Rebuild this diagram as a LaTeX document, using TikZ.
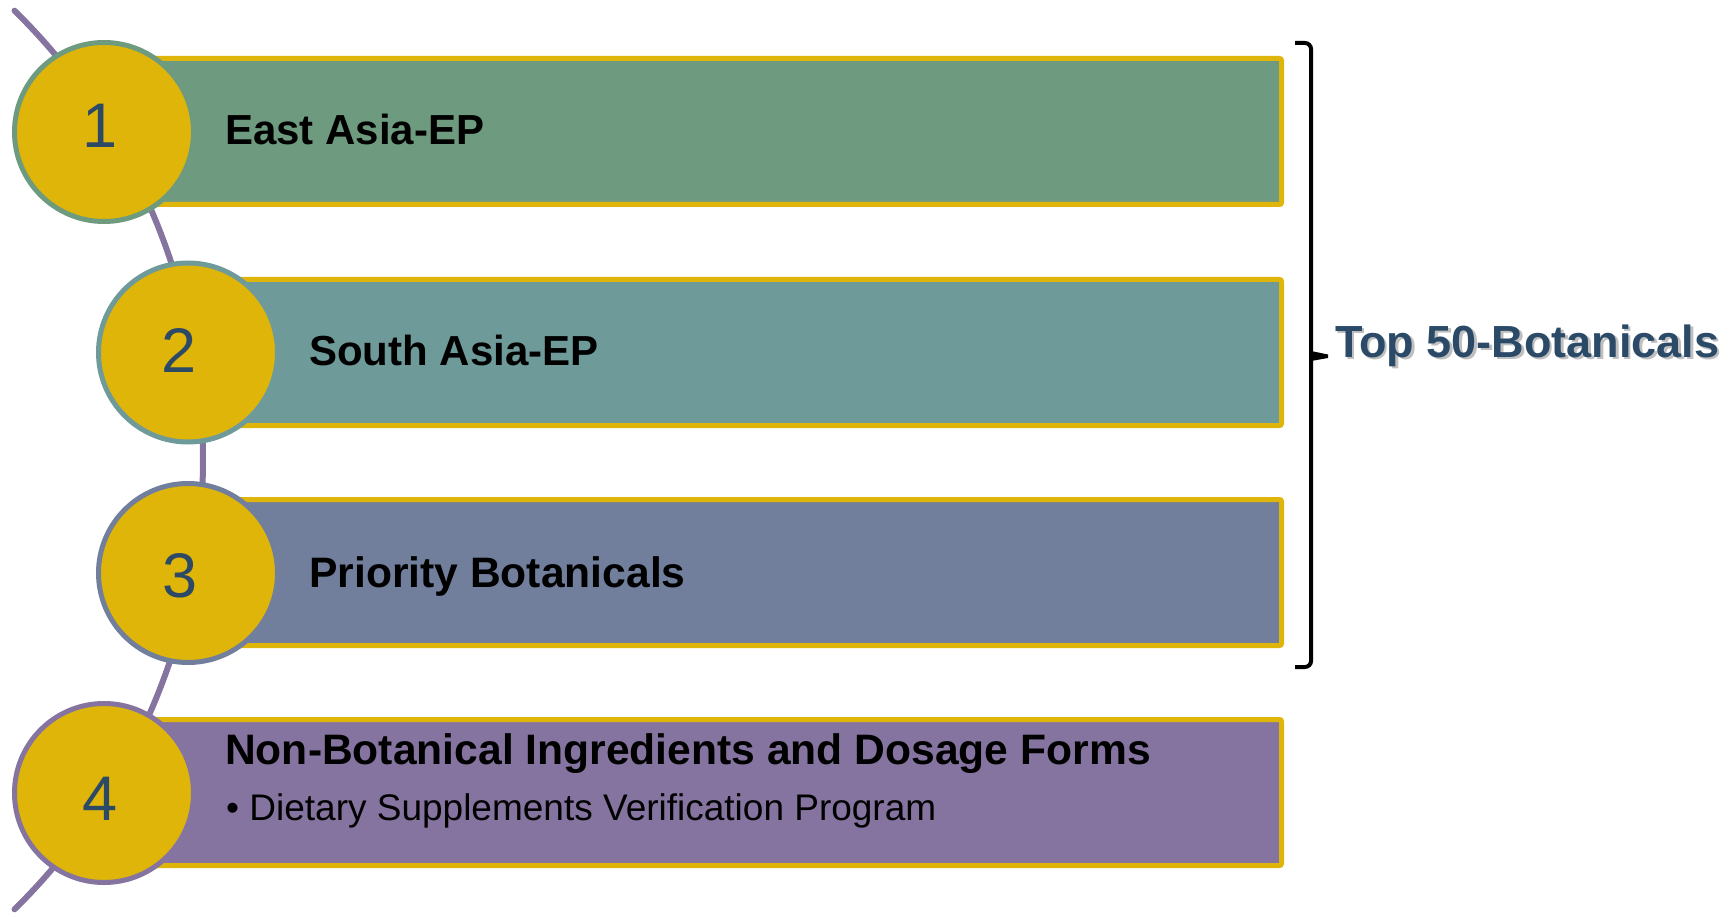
\documentclass[tikz,border=0pt]{standalone}
\usepackage{fontspec}
\setmainfont{Liberation Sans}
\definecolor{gold}{HTML}{DFB50A}
\definecolor{barA}{HTML}{6E9A80}
\definecolor{barB}{HTML}{6F9A9A}
\definecolor{barC}{HTML}{717F9C}
\definecolor{barD}{HTML}{8574A0}
\definecolor{numblue}{HTML}{2C4A66}
\definecolor{topblue}{HTML}{2A4A68}
\tikzset{
  barbox/.style={draw=gold, line width=5, rounded corners=2},
  numcirc/.style={circle, fill=gold, line width=5, minimum size=179, inner sep=0},
  numtext/.style={anchor=base, inner sep=0, text=numblue, font=\fontsize{63}{70}\selectfont},
  bartext/.style={anchor=base west, inner sep=0, text=black, font=\fontsize{42}{50}\selectfont\bfseries},
  bartextb/.style={anchor=base west, inner sep=0, text=black, font=\fontsize{42.6}{50}\selectfont\bfseries},
  subtext/.style={anchor=base west, inner sep=0, text=black, font=\fontsize{37}{44}\selectfont},
}
\begin{document}
\begin{tikzpicture}[x=1pt,y=-1pt]
\useasboundingbox (0,0) rectangle (1730,917);
\clip (0,0) rectangle (1730,917);
% background arc
\draw[barD, line width=6, line cap=round] (-427,460) ++(-45.5:630) arc[start angle=-45.5, end angle=45.5, radius=630];
% bars
\fill[barA] (104,58.5) rectangle (1281.5,204.5);
\draw[barbox] (104,58.5) -- (1281.5,58.5) -- (1281.5,204.5) -- (104,204.5);
\fill[barB] (188,279.5) rectangle (1281.5,425.5);
\draw[barbox] (188,279.5) -- (1281.5,279.5) -- (1281.5,425.5) -- (188,425.5);
\fill[barC] (188,499.5) rectangle (1281.5,645.5);
\draw[barbox] (188,499.5) -- (1281.5,499.5) -- (1281.5,645.5) -- (188,645.5);
\fill[barD] (104,719.5) rectangle (1281.5,865.5);
\draw[barbox] (104,719.5) -- (1281.5,719.5) -- (1281.5,865.5) -- (104,865.5);
% circles
\node[numcirc, draw=barA] (c1) at (104,132) {};
\node[numcirc, draw=barB] (c2) at (188,352.5) {};
\node[numcirc, draw=barC] (c3) at (188,573) {};
\node[numcirc, draw=barD] (c4) at (104,793) {};
\node[numtext] (n1) at (100,148) {1};
\node[numtext] (n2) at (179,372) {2};
\node[numtext] (n3) at (180,597) {3};
\node[numtext] (n4) at (100,820) {4};
% labels
\node[bartext] (t1) at (225,145) {East Asia-EP};
\node[bartext] (t2) at (309,366) {South Asia-EP};
\node[bartextb] (t3) at (309,587) {Priority Botanicals};
\node[bartextb] (t4) at (225,764) {Non-Botanical Ingredients and Dosage Forms};
\node[subtext] (t5) at (226,820) {• Dietary Supplements Verification Program};
% brace
\coordinate (bt) at (1295,43);
\coordinate (bb) at (1295,667);
\coordinate (bm) at (1311,356);
\draw[line width=4, rounded corners=6] (bt) -- (1311,43) -- (1311,667) -- (bb);
\fill (1311,351) -- (1328,354.5) -- (1328,358) -- (1311,361) -- cycle;
% side label with shadow
\node[anchor=base west, inner sep=0, text=black, opacity=0.25, font=\fontsize{45}{52}\selectfont\bfseries] (tshadow) at (1337.5,359.5) {Top 50-Botanicals};
\node[anchor=base west, inner sep=0, text=topblue, font=\fontsize{45}{52}\selectfont\bfseries] (top) at (1335,357) {Top 50-Botanicals};
\end{tikzpicture}
\end{document}
